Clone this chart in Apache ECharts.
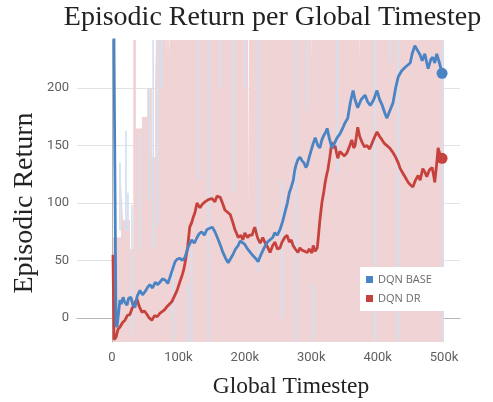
<!DOCTYPE html>
<html>
<head>
<meta charset="utf-8">
<script src="https://cdn.jsdelivr.net/npm/echarts@6/dist/echarts.min.js"></script>
<style>
  html, body { margin: 0; padding: 0; background: #fff; }
  #chart { width: 493px; height: 402px; }
</style>
</head>
<body>
<div id="chart"></div>
<script>
// Global timestep values are in thousands of steps.
const xTicks = [0, 100, 200, 300, 400, 500];
const yTicks = [0, 50, 100, 150, 200];
const seriesNames = ['DQN BASE', 'DQN DR'];

// Smoothed episodic return, DQN BASE: [step (k), return]
const baseCurve = [
  [1, 400], [6, -6], [7.5, -8], [10, 5], [12, 15.6], [14, 12], [16.6, 18], [19, 14], [22.6, 11], [25, 17],
  [28.6, 18], [31, 12], [34.6, 9], [38, 19], [42, 24], [46, 20], [50, 23], [54, 27], [57, 29], [61, 26],
  [65, 31], [69, 29], [72, 31], [76, 34], [80, 33], [84, 30], [87, 35], [91, 42], [95, 49], [98, 51],
  [102, 52], [106, 50], [110, 53], [115, 62], [120, 68], [124, 65], [128, 70], [131, 73], [135, 75], [139, 72],
  [143, 77], [147, 78], [151, 79], [155, 75], [160, 68], [164, 62], [167, 57], [171, 52], [175, 48], [178, 51],
  [182, 55], [186, 60], [190, 63], [193, 67], [196, 68], [200, 64], [203, 61], [207, 58], [211, 55], [216, 52],
  [220, 49], [225, 56], [230, 62], [234, 66], [238, 68], [242, 70], [245, 74], [249, 72], [253, 77], [257, 84],
  [260, 91], [264, 100], [267, 109], [270, 114], [273, 120], [275, 128], [277, 133], [280, 138], [283, 140], [286, 137],
  [289, 135], [292, 131], [294, 133], [297, 140], [300, 146], [303, 152], [306, 157], [310, 150], [313, 148], [316, 155],
  [319, 159], [322, 162], [324, 165], [327, 157], [331, 148], [335, 152], [339, 157], [343, 160], [348, 166], [351, 170],
  [355, 174], [359, 188], [363, 198], [366, 190], [370, 183], [375, 190], [381, 194], [385, 188], [389, 185], [394, 190],
  [399, 198], [403, 190], [407, 185], [411, 178], [414, 174], [418, 180], [423, 187], [427, 200], [431, 210], [436, 215],
  [441, 218], [445, 220], [449, 222], [452, 230], [456, 237], [460, 233], [464, 229], [467, 224], [471, 230], [474, 222],
  [476, 217], [480, 225], [483, 227], [486, 222], [489, 230], [493, 222], [497, 213]
];

// Smoothed episodic return, DQN DR: [step (k), return]
const drCurve = [
  [1.5, 55], [3, -19], [6, -17], [9, -10], [12, -8], [16, -4], [19.6, -2], [23, 2], [27, 3], [30, 8],
  [33, 11], [35, 14], [37.6, 16.5], [41, 10], [45, 5], [49, 6], [52.7, 3], [56, 0], [60, -2], [64, 2],
  [68, 1], [72, 4], [75, 3], [79, 7], [83, 10], [86, 9], [90, 14], [94, 19], [98, 24], [102, 31],
  [105, 36], [108, 42], [110, 48], [112, 55], [114, 62], [117, 79], [120, 83], [122, 87], [125, 92], [128, 100],
  [130, 98], [132.5, 96], [136, 99], [140, 101], [145, 103], [150.6, 104], [155, 101], [158, 106], [163, 105], [167, 99],
  [170, 94], [174, 92], [178, 90], [182, 83], [185, 77], [188, 73], [190, 70], [194, 72], [197, 68], [200, 74],
  [204, 70], [207, 72], [211, 72], [213, 76], [215, 79], [219, 70], [223, 65], [227, 70], [230, 66], [234, 62],
  [238, 57], [242, 63], [245.5, 66], [249, 60], [253, 61], [256, 66], [260, 70], [263.5, 72], [267, 66], [270, 68],
  [272.6, 63], [276, 60], [280, 57], [283, 61], [286, 59], [290, 58], [294, 57], [297, 60], [301, 56.5], [303, 63],
  [306, 58], [309, 61], [310, 66], [313, 85], [316, 100], [319, 110], [321, 118], [323, 124], [325, 129], [328, 140],
  [331, 153], [334, 148], [336, 150], [338, 144], [340, 139], [343, 145], [346, 146], [350, 141], [354, 144], [358, 150],
  [361, 155], [364, 148], [366, 150], [368, 158], [370, 166], [373, 158], [376.5, 153], [380, 149], [384, 150], [388, 147],
  [391.5, 152], [395, 157], [399, 162], [403, 158], [406.6, 155], [410, 152], [414, 150], [418, 148], [423, 144], [427, 140],
  [431, 135], [434, 130], [438, 126], [442, 122], [446, 118], [449, 116], [453, 114], [457, 120], [461, 124], [464, 120],
  [468, 130], [471, 127], [474, 123], [478, 129], [482, 131], [484, 125], [486, 118], [489, 135], [491, 148], [494, 142],
  [497, 139]
];

// Raw DQN DR returns: envelope of the unsmoothed episodes, [step (k), top] (each value holds until the next step)
const rawDrEnvelope = [
  [1.5, 70], [13.5, 120], [16.5, 85], [27, 60], [32, 300], [36, 165], [45, 175], [53, 200], [60, 140], [65, 205],
  [68, 300], [82, 226], [84, 300], [86, 227], [88, 300], [94, 237], [96, 300], [145, 220], [147, 300],
  [205, 91], [207, 300], [300, 224], [302, 300], [372, 222], [374, 300], [500, 300]
];

// Raw DQN BASE returns: individual spikes, [step (k), low, high]
const rawBaseSpikes = [
  [12, 76, 135], [21, 76, 163], [24, 76, 109], [30, -15, 98], [42, 59, 161], [56, 103, 200], [62, 60, 300],
  [69, 80, 300], [74, 200, 300], [92, -21, 40], [114, -21, 30], [120, -21, 60], [131, 120, 300], [145, -21, 300],
  [163, 200, 300], [182, 110, 300], [200, 200, 300], [220, 40, 300], [256, 0, 120], [277, -21, 300], [294, 180, 300],
  [303, -21, 30], [339, 126, 300], [396, -21, 300], [419, 222, 300], [431, -21, 300], [498, -21, 300]
];

const BLUE = '#4A84C4';
const RED = '#C6423D';
const PINK = '#F0D3D4';
const LIGHT_BLUE = '#D3E0F0';

function withEndDot(points, color) {
  return points.map((p, i) => i === points.length - 1
    ? { value: p, symbol: 'circle', symbolSize: 11, itemStyle: { color: color } }
    : { value: p, symbol: 'none' });
}

const chart = echarts.init(document.getElementById('chart'), null, { renderer: 'canvas' });

chart.setOption({
  animation: false,
  backgroundColor: '#fff',
  grid: { left: 77, right: 33, top: 40, bottom: 60 },
  xAxis: {
    type: 'value',
    min: -52.7,
    max: 524,
    axisLine: { show: true, lineStyle: { color: '#b5b5b5', width: 1 } },
    axisTick: { show: false, customValues: xTicks },
    splitLine: { show: false },
    axisLabel: {
      customValues: xTicks,
      formatter: v => (v === 0 ? '0' : v + 'k'),
      color: '#5f5f5f',
      fontFamily: 'Roboto',
      fontSize: 13,
      margin: 9
    }
  },
  yAxis: {
    type: 'value',
    min: -21,
    max: 242,
    axisLine: { show: true, lineStyle: { color: '#b5b5b5', width: 1 } },
    axisTick: { show: false, customValues: yTicks },
    splitLine: {
      show: true,
      lineStyle: { color: ['#9a9a9a', '#e2e2e2', '#e2e2e2', '#e2e2e2', '#e2e2e2'], width: 1 }
    },
    axisLabel: {
      customValues: yTicks,
      color: '#5f5f5f',
      fontFamily: 'Roboto',
      fontSize: 13,
      margin: 8
    }
  },
  legend: {
    data: seriesNames,
    orient: 'vertical',
    left: 360,
    top: 267,
    width: 83,
    backgroundColor: '#fff',
    padding: [7, 20, 7, 6],
    itemGap: 8,
    itemWidth: 7,
    itemHeight: 7,
    icon: 'rect',
    textStyle: { color: '#6a6a6a', fontFamily: 'Open Sans', fontSize: 11 }
  },
  graphic: [
    {
      type: 'text', x: 272.5, y: 18,
      style: { text: 'Episodic Return per Global Timestep', font: '28px "Liberation Serif"', fill: '#222',
        textAlign: 'center', textVerticalAlign: 'middle' }
    },
    {
      type: 'text', x: 291, y: 387,
      style: { text: 'Global Timestep', font: '23.5px "Liberation Serif"', fill: '#222',
        textAlign: 'center', textVerticalAlign: 'middle' }
    },
    {
      type: 'text', x: 25, y: 203, rotation: Math.PI / 2,
      style: { text: 'Episodic Return', font: '28px "Liberation Serif"', fill: '#222',
        textAlign: 'center', textVerticalAlign: 'middle' }
    }
  ],
  series: [
    {
      name: 'DQN DR raw',
      type: 'line',
      step: 'end',
      silent: true,
      z: 1,
      symbol: 'none',
      lineStyle: { width: 0, color: PINK },
      areaStyle: { color: PINK, opacity: 1, origin: 'start' },
      data: rawDrEnvelope
    },
    {
      name: 'DQN BASE raw',
      type: 'custom',
      silent: true,
      z: 1.5,
      data: rawBaseSpikes,
      renderItem: function (params, api) {
        const lo = api.coord([api.value(0), api.value(1)]);
        const hi = api.coord([api.value(0), api.value(2)]);
        const w = 1.7;
        const cs = params.coordSys;
        const rect = echarts.graphic.clipRectByRect(
          { x: lo[0] - w / 2, y: hi[1], width: w, height: lo[1] - hi[1] },
          { x: cs.x, y: cs.y, width: cs.width, height: cs.height }
        );
        return rect && { type: 'rect', shape: rect, style: { fill: LIGHT_BLUE } };
      }
    },
    {
      name: 'DQN DR',
      type: 'line',
      z: 3,
      color: RED,
      showSymbol: true,
      showAllSymbol: true,
      lineStyle: { color: RED, width: 2.8 },
      itemStyle: { color: RED },
      data: withEndDot(drCurve, RED)
    },
    {
      name: 'DQN BASE',
      type: 'line',
      z: 4,
      color: BLUE,
      showSymbol: true,
      showAllSymbol: true,
      lineStyle: { color: BLUE, width: 2.8 },
      itemStyle: { color: BLUE },
      data: withEndDot(baseCurve, BLUE)
    }
  ]
});
</script>
</body>
</html>
